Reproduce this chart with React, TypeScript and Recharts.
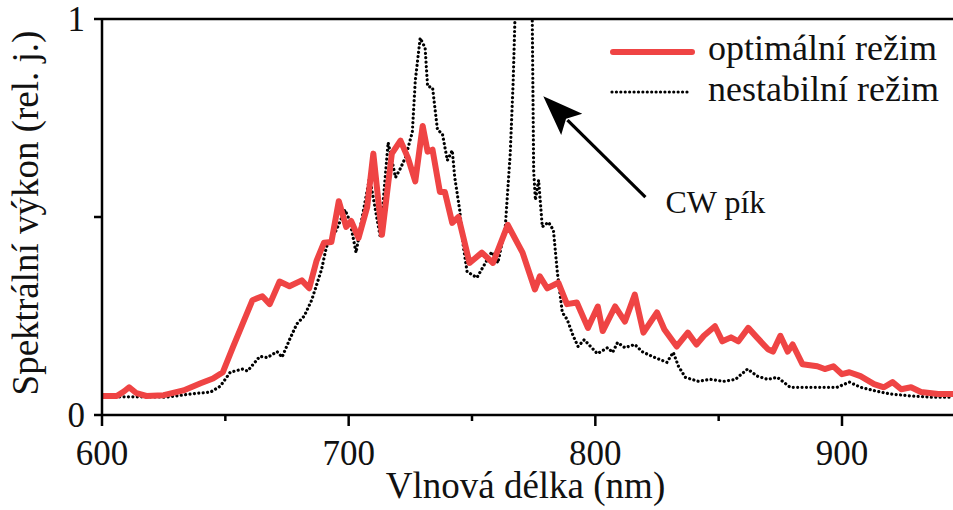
import { LineChart, Line, XAxis, YAxis, Legend, ReferenceLine } from 'recharts';

const FONT = '"Liberation Serif", "Times New Roman", serif';

// optimální režim (red)
const optimalNm = [
  600, 606, 609, 611, 614, 618, 625, 633, 640, 645, 649, 653, 657, 661, 665, 668, 672, 676, 681, 684,
  687, 690, 693, 696, 699, 701, 704, 707.5, 710, 713.5, 717.5, 721, 724, 727, 730, 732, 734, 737, 739, 742,
  744.5, 749, 754, 758.5, 764.5, 770.5, 775.5, 777.5, 780.5, 785, 788.5, 792.5, 797, 801, 803, 808, 812, 816, 819.5, 825,
  828, 833, 837.5, 841, 844, 848.5, 851.5, 855, 858, 862, 865.5, 870, 872, 875, 878, 880, 884, 890, 893, 896.5,
  900, 903, 907.5, 913, 917, 920.5, 924, 928, 932, 939, 945,
];
const optimalVal = [
  0.048, 0.048, 0.06, 0.07, 0.055, 0.048, 0.05, 0.062, 0.08, 0.092, 0.108, 0.17, 0.23, 0.29, 0.3, 0.28, 0.337, 0.325, 0.34, 0.32,
  0.39, 0.435, 0.437, 0.54, 0.475, 0.49, 0.447, 0.525, 0.66, 0.455, 0.66, 0.693, 0.65, 0.59, 0.73, 0.665, 0.67, 0.563, 0.563, 0.485,
  0.5, 0.384, 0.41, 0.384, 0.48, 0.41, 0.317, 0.35, 0.32, 0.334, 0.28, 0.284, 0.22, 0.274, 0.212, 0.274, 0.236, 0.304, 0.208, 0.259,
  0.216, 0.173, 0.208, 0.178, 0.2, 0.224, 0.186, 0.196, 0.186, 0.22, 0.196, 0.166, 0.16, 0.2, 0.16, 0.178, 0.128, 0.123, 0.116, 0.123,
  0.103, 0.108, 0.098, 0.078, 0.07, 0.083, 0.065, 0.07, 0.058, 0.053, 0.053,
];

// nestabilní režim (black dotted), CW peak goes off the top
const unstableNm = [
  600, 610, 620, 626, 636, 644, 648, 652, 657, 659, 664, 667, 671, 673, 676, 679, 682, 685, 689, 691,
  695, 698.5, 700.5, 703, 705.5, 708.5, 712.8, 716, 719, 721, 723, 725.8, 727, 729, 731, 732, 734, 736, 738, 740,
  742, 743, 745, 746.5, 748, 752, 754.5, 758, 760.5, 763.5, 765.5, 766.7, 767.5, 768.5, 770.5, 773, 774.4, 775, 775.7, 777,
  778.5, 781, 783, 784.6, 786.6, 788.6, 791, 793, 795.5, 800.8, 805, 807, 809, 812, 816, 819, 823, 829, 831.6, 833.7,
  836.5, 841.8, 846.6, 852, 856.8, 861.7, 865.7, 869.8, 873.8, 879, 884.4, 891, 898, 903, 907.5, 914, 919.7, 928, 936, 945,
];
const unstableVal = [
  0.046, 0.046, 0.046, 0.045, 0.053, 0.058, 0.073, 0.108, 0.116, 0.111, 0.148, 0.145, 0.16, 0.146, 0.19, 0.23, 0.25, 0.29, 0.367, 0.425,
  0.467, 0.518, 0.49, 0.41, 0.5, 0.6, 0.45, 0.688, 0.6, 0.623, 0.65, 0.714, 0.844, 0.952, 0.927, 0.83, 0.827, 0.72, 0.71, 0.643,
  0.668, 0.6, 0.518, 0.425, 0.362, 0.347, 0.374, 0.412, 0.384, 0.475, 0.66, 0.844, 1.02, 1.3, 1.8, 1.3, 1.02, 0.618, 0.543, 0.593,
  0.475, 0.487, 0.467, 0.36, 0.259, 0.241, 0.2, 0.173, 0.19, 0.155, 0.17, 0.158, 0.183, 0.17, 0.178, 0.16, 0.148, 0.133, 0.158, 0.123,
  0.095, 0.085, 0.09, 0.085, 0.09, 0.116, 0.098, 0.09, 0.095, 0.07, 0.07, 0.07, 0.07, 0.083, 0.07, 0.06, 0.053, 0.048, 0.045, 0.045,
];

const xTicks = [600, 650, 700, 750, 800, 850, 900];
const yTicks = [0, 0.5, 1];
const legendLabels = ['optimální režim', 'nestabilní režim'];

const optimalData = optimalNm.map((nm, i) => ({ nm, value: optimalVal[i] }));
const unstableData = unstableNm.map((nm, i) => ({ nm, value: unstableVal[i] }));

const RED = '#ef4444';

const XTick = ({ x, y, payload }: any) => {
  const major = payload.value % 100 === 0;
  return (
    <g>
      <line x1={x} x2={x} y1={y} y2={y + (major ? 11 : 6)} stroke="#000" strokeWidth={2.5} />
      {major && (
        <text x={x} y={y + 50} textAnchor="middle" fontFamily={FONT} fontSize={35} fill="#111">
          {payload.value}
        </text>
      )}
    </g>
  );
};

const YTick = ({ x, y, payload }: any) => {
  const labeled = payload.value === 0 || payload.value === 1;
  return (
    <g>
      <line x1={x - 8} x2={x} y1={y} y2={y} stroke="#000" strokeWidth={2.5} />
      {labeled && (
        <text x={x - 17} y={y + 12} textAnchor="end" fontFamily={FONT} fontSize={35} fill="#111">
          {payload.value}
        </text>
      )}
    </g>
  );
};

const renderLegend = () => (
  <svg width={340} height={90} style={{ display: 'block' }}>
    <line x1={3} x2={82} y1={22} y2={22} stroke={RED} strokeWidth={6} strokeLinecap="round" />
    <text x={98} y={30} fontFamily={FONT} fontSize={36} fill="#111">{legendLabels[0]}</text>
    <line x1={2} x2={78} y1={62} y2={62} stroke="#000" strokeWidth={3.2} strokeDasharray="0.01 4.4" strokeLinecap="round" />
    <text x={98} y={71} fontFamily={FONT} fontSize={36} fill="#111">{legendLabels[1]}</text>
  </svg>
);

// arrow pointing at the CW peak
const Arrow = ({ x1, y1, x2, y2 }: any) => {
  const dx = x2 - x1;
  const dy = y2 - y1;
  const len = Math.sqrt(dx * dx + dy * dy);
  const ux = dx / len;
  const uy = dy / len;
  const headLen = 40;
  const half = 15;
  const bx = x2 - ux * headLen;
  const by = y2 - uy * headLen;
  const pts = [
    `${x2},${y2}`,
    `${bx - uy * half},${by + ux * half}`,
    `${x2 - ux * (headLen - 8)},${y2 - uy * (headLen - 8)}`,
    `${bx + uy * half},${by - ux * half}`,
  ].join(' ');
  return (
    <g>
      <line x1={x1} y1={y1} x2={bx + ux * 6} y2={by + uy * 6} stroke="#000" strokeWidth={3.2} />
      <polygon points={pts} fill="#000" />
      <text x={x1 + 20} y={y1 + 16} fontFamily={FONT} fontSize={32} fill="#111">CW pík</text>
    </g>
  );
};

export default function App() {
  return (
    <div style={{ position: 'absolute', left: 0, top: 0, background: '#fff' }}>
      <LineChart width={953} height={510} margin={{ top: 19, right: 0, bottom: 0, left: 0 }}>
        <XAxis
          dataKey="nm"
          type="number"
          domain={[600, 945]}
          allowDataOverflow
          ticks={xTicks}
          interval={0}
          height={95}
          tickSize={0}
          tickMargin={0}
          tick={<XTick />}
          axisLine={{ stroke: '#000', strokeWidth: 2.5 }}
          label={{
            content: ({ viewBox }: any) => (
              <text
                x={viewBox.x + viewBox.width / 2 - 2}
                y={viewBox.y + 83}
                textAnchor="middle"
                fontFamily={FONT}
                fontSize={37}
                fill="#111"
              >
                Vlnová délka (nm)
              </text>
            ),
          }}
        />
        <YAxis
          type="number"
          domain={[0, 1]}
          allowDataOverflow
          ticks={yTicks}
          interval={0}
          width={102}
          tickSize={0}
          tickMargin={0}
          tick={<YTick />}
          axisLine={{ stroke: '#000', strokeWidth: 2.5 }}
          label={{
            content: ({ viewBox }: any) => {
              const cx = 38;
              const cy = viewBox.y + viewBox.height / 2 - 4;
              return (
                <text
                  x={cx}
                  y={cy}
                  transform={`rotate(-90, ${cx}, ${cy})`}
                  textAnchor="middle"
                  fontFamily={FONT}
                  fontSize={37}
                  fill="#111"
                >
                  Spektrální výkon (rel. j.)
                </text>
              );
            },
          }}
        />
        <ReferenceLine y={1} stroke="#000" strokeWidth={2.5} />
        <Legend
          layout="horizontal"
          align="center"
          verticalAlign="middle"
          content={renderLegend}
          wrapperStyle={{ position: 'absolute', left: 610, top: 30, width: 340, height: 90 }}
        />
        <Line
          data={unstableData}
          dataKey="value"
          name={legendLabels[1]}
          type="linear"
          stroke="#000"
          strokeWidth={3.2}
          strokeDasharray="0.01 4.4"
          strokeLinecap="round"
          dot={false}
          activeDot={false}
          isAnimationActive={false}
        />
        <Line
          data={optimalData}
          dataKey="value"
          name={legendLabels[0]}
          type="linear"
          stroke={RED}
          strokeWidth={6}
          strokeLinejoin="round"
          dot={false}
          activeDot={false}
          isAnimationActive={false}
        />
        <ReferenceLine
          segment={[
            { x: 820.3, y: 0.55 },
            { x: 778.9, y: 0.805 },
          ]}
          stroke="#000"
          shape={<Arrow />}
        />
      </LineChart>
    </div>
  );
}
